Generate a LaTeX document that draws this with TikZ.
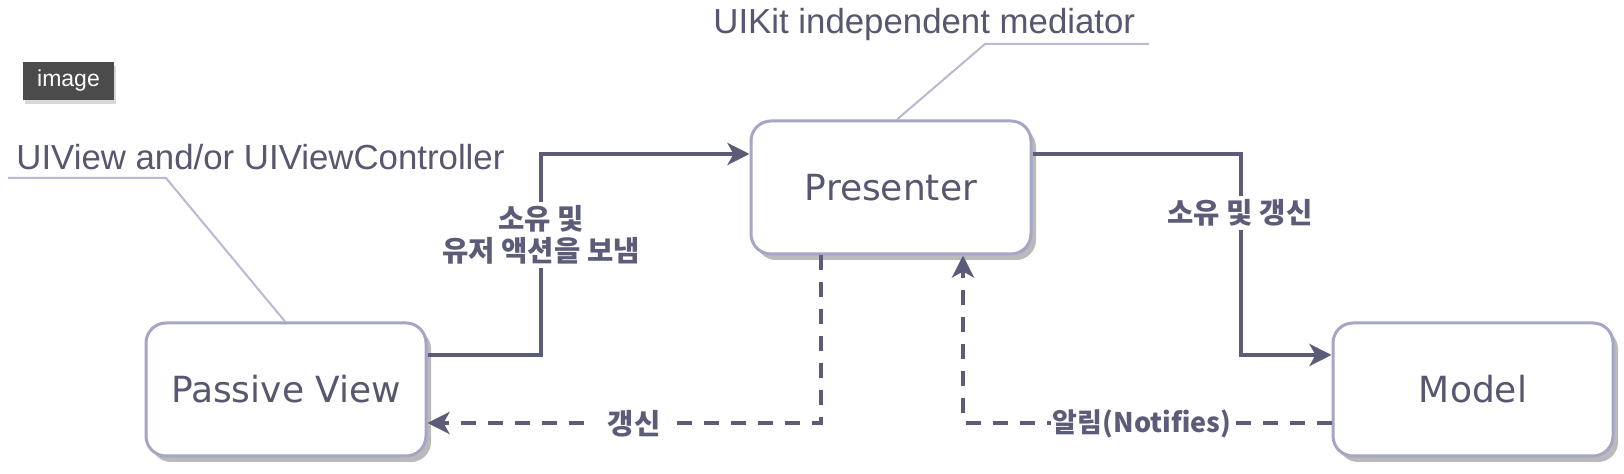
\documentclass[tikz,border=0pt]{standalone}
\usepackage{fontspec}
\setmainfont{Liberation Sans}
\newfontfamily\boxfont{DejaVu Sans}
\newfontfamily\krfont{Noto Sans CJK KR}
\usetikzlibrary{arrows.meta,shadows,calc}
\definecolor{txt}{HTML}{575770}
\definecolor{linec}{HTML}{5C5C78}
\definecolor{boxc}{HTML}{A5A5C5}
\definecolor{annc}{HTML}{B9B9D3}
\definecolor{badgec}{HTML}{4B4B4B}
\begin{document}
\begin{tikzpicture}[x=0.5pt,y=-0.5pt,
  box/.style={draw=boxc, line width=1.5pt, rounded corners=10pt, fill=white,
    minimum width=140pt, minimum height=66.5pt, inner sep=0pt,
    font=\boxfont\fontsize{18}{20}\selectfont, text=txt,
    drop shadow={shadow xshift=2.5pt, shadow yshift=-3pt, fill=black!45, opacity=0.6}},
  conn/.style={draw=linec, line width=2pt, -{Stealth[length=11pt,width=11pt,inset=3pt]}},
  dconn/.style={conn, dash pattern=on 7.5pt off 6pt},
  lbl/.style={font=\krfont\bfseries\fontsize{14.3}{16}\selectfont, text=linec, fill=white, inner sep=2pt, align=center},
  annot/.style={draw=annc, line width=1pt},
  atext/.style={font=\fontsize{17.4}{20}\selectfont, text=txt, inner sep=0pt}]
\useasboundingbox[fill=white] (0,0) rectangle (1624,474);

% badge
\node[fill=badgec, text=white, minimum width=45.5pt, minimum height=19pt, inner sep=0pt,
  font=\fontsize{11.5}{13}\selectfont,
  drop shadow={shadow xshift=1pt, shadow yshift=-2pt, fill=black!30, opacity=0.5}] (badge) at (68.5,81) {image};

% boxes
\node[box] (pv) at (286,389.5) {Passive View};
\node[box] (pres) at (891,187.5) {Presenter};
\node[box] (model) at (1473,389.5) {Model};

% annotations
\node[atext, anchor=base west] (uiv) at (16,170) {UIView and/or UIViewController};
\node[atext, anchor=base west] (uik) at (713,34) {UIKit independent mediator};
\coordinate (a1) at (8,178);
\coordinate (a2) at (166,178);
\draw[annot] (a1) -- (a2) -- (pv.north -| 285,0);
\coordinate (b1) at (1149,44);
\coordinate (b2) at (985,44);
\draw[annot] (b1) -- (b2) -- (pres.north -| 897,0);

% connectors
\draw[conn] (pv.east |- 0,355) -- (541,355) -- (541,154) -- (pres.west |- 0,154);
\draw[conn] (pres.east |- 0,154) -- (1241,154) -- (1241,355) -- (model.west |- 0,355);
\draw[dconn] (pres.south -| 821,0) -- (821,423) -- (pv.east |- 0,423);
\draw[dconn] (model.west |- 0,423) -- (963,423) -- (pres.south -| 963,0);

% labels
\node[lbl] (l1) at (541,235) {소유 및\\유저 액션을 보냄};
\node[lbl] (l2) at (1240,213) {소유 및 갱신};
\node[lbl, inner xsep=6pt] (l3) at (634,424) {갱신};
\node[lbl, inner xsep=1pt, font=\krfont\bfseries\fontsize{13.5}{15.5}\selectfont] (l4) at (1142,424) {알림(Notifies)};
\end{tikzpicture}
\end{document}
